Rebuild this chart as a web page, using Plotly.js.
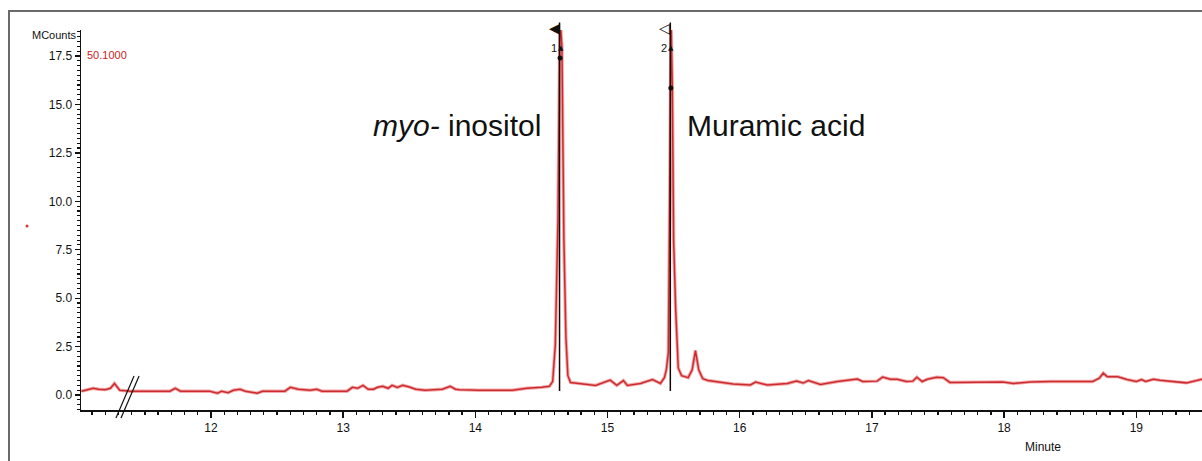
<!DOCTYPE html>
<html>
<head>
<meta charset="utf-8">
<script src="https://cdn.plot.ly/plotly-3.0.1.min.js"></script>
<style>
  html, body { margin: 0; padding: 0; background: #fff; overflow: hidden; }
  #wrap { position: relative; width: 1202px; height: 461px; }
  #frame { position: absolute; left: 8px; top: 10px; width: 1300px; height: 600px;
           border-left: 2px solid #6a6a6a; border-top: 2px solid #6a6a6a; pointer-events: none; }
  #chart { position: absolute; left: 0; top: 0; width: 1202px; height: 461px; }
</style>
</head>
<body>
<div id="wrap">
  <div id="chart"></div>
  <div id="frame"></div>
</div>
<script>
// Retention time (minutes)
const times = [
  11.02, 11.11, 11.15, 11.20, 11.24, 11.27, 11.31, 11.39, 11.69, 11.73,
  11.77, 11.99, 12.05, 12.08, 12.13, 12.17, 12.22, 12.26, 12.35, 12.39,
  12.56, 12.60, 12.66, 12.75, 12.80, 12.84, 13.03, 13.07, 13.11, 13.15,
  13.19, 13.23, 13.26, 13.30, 13.34, 13.37, 13.41, 13.45, 13.50, 13.55,
  13.62, 13.75, 13.81, 13.85, 13.88, 14.03, 14.28, 14.39, 14.50, 14.56,
  14.585, 14.605, 14.625, 14.64, 14.655, 14.67, 14.685, 14.70, 14.72, 14.79,
  14.91, 15.02, 15.07, 15.12, 15.15, 15.25, 15.34, 15.40, 15.43, 15.445,
  15.46, 15.47, 15.48, 15.49, 15.50, 15.515, 15.525, 15.535, 15.56, 15.61,
  15.64, 15.665, 15.69, 15.72, 15.76, 15.82, 15.85, 15.95, 16.08, 16.12,
  16.21, 16.36, 16.43, 16.48, 16.52, 16.57, 16.61, 16.74, 16.89, 16.93,
  17.04, 17.08, 17.14, 17.19, 17.26, 17.31, 17.34, 17.38, 17.42, 17.49,
  17.54, 17.59, 17.76, 17.99, 18.07, 18.20, 18.35, 18.50, 18.67, 18.72,
  18.75, 18.78, 18.86, 18.93, 19.00, 19.04, 19.07, 19.13, 19.18, 19.38,
  19.50
];
// Signal (MCounts)
const counts = [
  0.20, 0.35, 0.30, 0.28, 0.35, 0.60, 0.25, 0.20, 0.20, 0.35,
  0.20, 0.20, 0.10, 0.20, 0.12, 0.25, 0.30, 0.20, 0.10, 0.20,
  0.20, 0.40, 0.30, 0.25, 0.30, 0.20, 0.20, 0.40, 0.35, 0.50,
  0.30, 0.30, 0.40, 0.45, 0.35, 0.50, 0.40, 0.50, 0.42, 0.30,
  0.25, 0.30, 0.45, 0.30, 0.28, 0.25, 0.25, 0.35, 0.40, 0.45,
  0.70, 2.60, 9.00, 19.50, 18.00, 8.00, 3.00, 1.00, 0.65, 0.60,
  0.50, 0.77, 0.50, 0.75, 0.50, 0.60, 0.80, 0.60, 0.90, 1.30,
  2.20, 10.00, 19.50, 16.00, 8.00, 4.50, 2.50, 1.40, 1.00, 0.90,
  1.30, 2.30, 1.30, 0.85, 0.75, 0.70, 0.67, 0.57, 0.52, 0.67,
  0.52, 0.60, 0.72, 0.62, 0.75, 0.65, 0.55, 0.70, 0.83, 0.70,
  0.72, 0.93, 0.82, 0.82, 0.70, 0.72, 0.92, 0.70, 0.82, 0.92,
  0.90, 0.65, 0.65, 0.68, 0.60, 0.68, 0.70, 0.70, 0.70, 0.87,
  1.13, 0.95, 0.95, 0.80, 0.70, 0.80, 0.70, 0.82, 0.76, 0.63,
  0.82
];
// Integrated peak markers
const peakTimes = [14.637, 15.475];
const peakLabels = ['1', '2'];
const peakDots = [17.4, 15.85];
const peakFlags = ['◀', '◁'];
const compoundNames = ['<i>myo-</i> inositol', 'Muramic acid'];

const FONT = 'Liberation Sans, Arial, sans-serif';

const traces = [
  {
    x: times, y: counts, type: 'scatter', mode: 'lines',
    line: { color: '#f2a9a9', width: 3.4 }, hoverinfo: 'skip', showlegend: false
  },
  {
    x: times, y: counts, type: 'scatter', mode: 'lines',
    line: { color: '#cc2c30', width: 1.5 }, showlegend: false
  },
  {
    x: peakTimes.map(t => t + 0.004), y: peakDots, type: 'scatter', mode: 'markers',
    marker: { color: '#111', size: 5 }, showlegend: false, cliponaxis: false
  }
];

const shapes = [];
peakTimes.forEach(t => {
  shapes.push({ type: 'line', xref: 'x', yref: 'paper', x0: t, x1: t, y0: 0.05, y1: 1.02,
    line: { color: '#1a0505', width: 1.5 }, layer: 'above' });
});
// axis break marks
shapes.push({ type: 'line', xref: 'paper', yref: 'paper', x0: 0.0312, y0: -0.021, x1: 0.0473, y1: 0.0895,
  line: { color: '#111', width: 1.2 } });
shapes.push({ type: 'line', xref: 'paper', yref: 'paper', x0: 0.0357, y0: -0.021, x1: 0.0518, y1: 0.0895,
  line: { color: '#111', width: 1.2 } });
// small red dot at left
shapes.push({ type: 'circle', xref: 'paper', yref: 'paper', x0: -0.0495, x1: -0.0468, y0: 0.480, y1: 0.488,
  fillcolor: '#d23a3a', line: { width: 0 } });

const annotations = [
  { xref: 'paper', yref: 'paper', x: -0.002, y: 0.987, xanchor: 'right', yanchor: 'middle',
    text: 'MCounts', showarrow: false, font: { family: FONT, size: 11, color: '#111' } },
  { xref: 'paper', yref: 'paper', x: 0.004, y: 0.934, xanchor: 'left', yanchor: 'middle',
    text: '50.1000', showarrow: false, font: { family: FONT, size: 11, color: '#cc2222' } },
  { xref: 'paper', yref: 'paper', x: 0.858, y: -0.097, xanchor: 'center', yanchor: 'middle',
    text: 'Minute', showarrow: false, font: { family: FONT, size: 12, color: '#111' } },
  { xref: 'paper', yref: 'paper', x: 0.412, y: 0.75, xanchor: 'right', yanchor: 'middle',
    text: compoundNames[0], showarrow: false, font: { family: FONT, size: 30, color: '#111' } },
  { xref: 'paper', yref: 'paper', x: 0.539, y: 0.75, xanchor: 'left', yanchor: 'middle',
    text: compoundNames[1], showarrow: false, font: { family: FONT, size: 30, color: '#111' } }
];
peakTimes.forEach((t, i) => {
  annotations.push({ xref: 'x', yref: 'paper', x: t, y: 0.953, xanchor: 'right', yanchor: 'middle',
    xshift: -1, text: peakLabels[i], showarrow: false, font: { family: FONT, size: 11, color: '#111' } });
  annotations.push({ xref: 'x', yref: 'paper', x: t, y: 0.953, xanchor: 'center', yanchor: 'middle',
    xshift: 1, text: '▲', showarrow: false, font: { family: 'DejaVu Sans', size: 7, color: '#111' } });
  annotations.push({ xref: 'x', yref: 'paper', x: t, y: 1.005, xanchor: 'right', yanchor: 'middle',
    xshift: 2, text: peakFlags[i], showarrow: false, font: { family: 'DejaVu Sans', size: 14, color: '#111' } });
});

const layout = {
  width: 1202, height: 461,
  margin: { l: 81, r: 0, t: 30, b: 51, pad: 0 },
  paper_bgcolor: '#fff', plot_bgcolor: '#fff',
  showlegend: false,
  xaxis: {
    range: [11.017, 19.497], showgrid: false, zeroline: false,
    showline: true, linecolor: '#111', linewidth: 2,
    tickmode: 'linear', tick0: 0, dtick: 1,
    ticks: 'outside', ticklen: 6, tickwidth: 1.3, tickcolor: '#111',
    minor: { dtick: 0.1, tick0: 0, ticks: 'outside', ticklen: 3, tickwidth: 1.3, tickcolor: '#111', showgrid: false },
    tickfont: { family: FONT, size: 12, color: '#111' },
    showticklabels: true
  },
  yaxis: {
    range: [-0.77, 18.84], showgrid: false, zeroline: false,
    showline: true, linecolor: '#111', linewidth: 1.5,
    tickmode: 'linear', tick0: 0, dtick: 2.5, tickformat: '.1f',
    ticks: 'outside', ticklen: 5, tickwidth: 1.3, tickcolor: '#111',
    minor: { dtick: 0.25, tick0: 0, ticks: 'outside', ticklen: 3, tickwidth: 1.1, tickcolor: '#111', showgrid: false },
    tickfont: { family: FONT, size: 12, color: '#111' }
  },
  shapes: shapes,
  annotations: annotations
};

Plotly.newPlot('chart', traces, layout, { displayModeBar: false, staticPlot: true });
</script>
</body>
</html>
